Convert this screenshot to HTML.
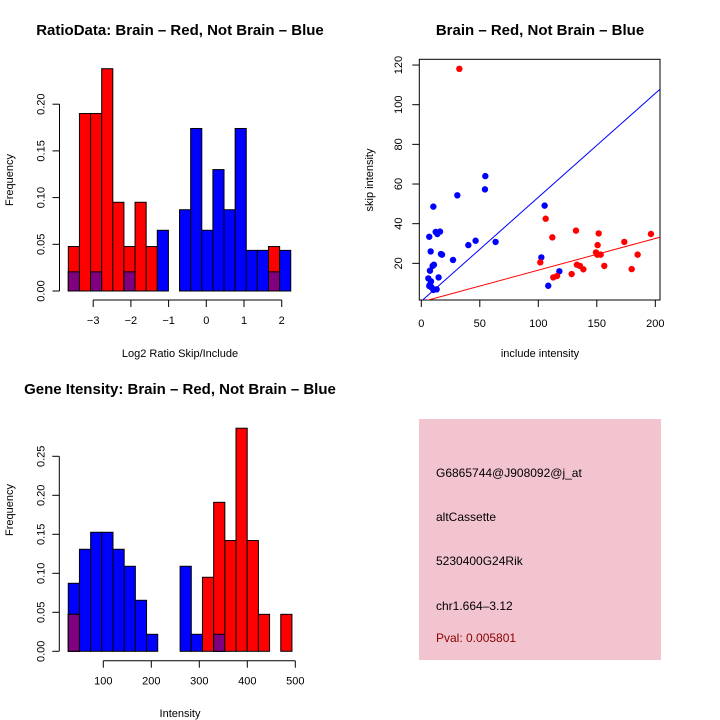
<!DOCTYPE html>
<html><head><meta charset="utf-8"><style>
html,body{margin:0;padding:0;background:#fff}
svg{display:block;font-family:"Liberation Sans",sans-serif}
</style></head><body>
<svg id="c" width="720" height="720" viewBox="0 0 720 720">
<rect width="720" height="720" fill="#fff"/>
<g id="p1"></g>
<g id="p2"></g>
<g id="p3"></g>
<g id="p4">
<rect x="419" y="419" width="242" height="241" fill="#f2c4cf"/>
<text x="436" y="477" font-size="12" fill="#000">G6865744@J908092@j_at</text>
<text x="436" y="521" font-size="12" fill="#000">altCassette</text>
<text x="436" y="565" font-size="12" fill="#000">5230400G24Rik</text>
<text x="436" y="610" font-size="12" fill="#000">chr1.664–3.12</text>
<text x="436" y="642" font-size="12" fill="#8b0000">Pval: 0.005801</text>
</g>
</svg>
<script>
// ---- Panel 1 data: log2 ratio histogram (20 bins) ----
const ratioBlue = [0.0217,0,0.0217,0,0,0.0217,0,0,0.065,0,0.087,0.174,0.065,0.13,0.087,0.174,0.0435,0.0435,0.0435,0.0435];
const ratioRed  = [0.0476,0.19,0.19,0.238,0.095,0.0476,0.095,0.0476,0,0,0,0,0,0,0,0,0,0,0.0476,0];
const ratioPurple = [0.0205,0,0.0205,0,0,0.0205,0,0,0,0,0,0,0,0,0,0,0,0,0.0205,0];
const ratioXTicks = [-3,-2,-1,0,1,2];
const ratioYTicks = [0,0.05,0.10,0.15,0.20];
const ratioYLabels = ["0.00","0.05","0.10","0.15","0.20"];
const ratioBinStart = -3.66, ratioBinWidth = 0.295;

// ---- Panel 2 data: scatter ----
const redX = [32.5,106.3,101.7,112,132.2,151.6,150.7,149.3,150.4,153.3,133,135.6,138.5,156.4,128.5,112.8,116,173.5,196.3,184.9,179.8];
const redY = [118.1,42.5,20.5,33.1,36.5,35.1,29.2,25.5,24.4,24.4,19.3,18.7,17,18.7,14.6,12.9,13.6,30.8,34.8,24.4,17.1];
const blueX = [6.8,8,10.3,12.3,13.7,16,16.8,17.7,9.7,10.8,7.4,6,7.4,8.8,10.3,13.1,14.8,6.8,8.3,27.1,30.8,40.2,46.4,54.7,54.4,63.5,102.6,105.4,108.5,118];
const blueY = [33.4,26,48.6,35.8,34.8,36,24.7,24.4,18.7,19.3,16.3,12.4,9.2,7.9,6.6,6.9,12.9,8.6,10.9,21.7,54.3,29.2,31.4,64,57.3,30.8,23,49.1,8.7,16];
const blueLine = [0.9,0.524];   // intercept, slope
const redLine = [0.55,0.16];
const scatXTicks = [0,50,100,150,200];
const scatYTicks = [20,40,60,80,100,120];

// ---- Panel 3 data: gene intensity histogram (20 bins) ----
const intBlue = [0.0872,0.1308,0.1526,0.1526,0.1308,0.109,0.0654,0.0218,0,0,0.109,0.0218,0,0.0218,0,0,0,0,0,0];
const intRed  = [0.0474,0,0,0,0,0,0,0,0,0,0,0,0.0949,0.191,0.142,0.286,0.142,0.0474,0,0.0474];
const intPurple = [0.0474,0,0,0,0,0,0,0,0,0,0,0,0,0.0218,0,0,0,0,0,0];
const intXTicks = [100,200,300,400,500];
const intYTicks = [0,0.05,0.10,0.15,0.20,0.25];
const intYLabels = ["0.00","0.05","0.10","0.15","0.20","0.25"];
const intBinStart = 27, intBinWidth = 23.3;

const NS = "http://www.w3.org/2000/svg";
function mk(parent, tag, attrs, text){
  const e = document.createElementNS(NS, tag);
  for (const k in attrs) e.setAttribute(k, attrs[k]);
  if (text !== undefined) e.textContent = text;
  parent.appendChild(e);
  return e;
}

function histogram(g, opt){
  const sx = v => opt.x0 + (v - opt.xv0) * opt.xs;
  const sy = v => opt.base - v * opt.ys;
  const n = opt.blue.length;
  for (let i = 0; i < n; i++){
    const l = sx(opt.binStart + i*opt.binW), r = sx(opt.binStart + (i+1)*opt.binW);
    if (opt.blue[i] > 0){
      const b = mk(g,'rect',{x:l,y:sy(opt.blue[i]),width:r-l,height:opt.blue[i]*opt.ys,fill:'#0000ff',stroke:'#000','stroke-width':1});
      
      
    }
    if (opt.red[i] > 0){
      const b = mk(g,'rect',{x:l,y:sy(opt.red[i]),width:r-l,height:opt.red[i]*opt.ys,fill:'#ff0000',stroke:'#000','stroke-width':1});
      
      
    }
    if (opt.purple[i] > 0){
      const b = mk(g,'rect',{x:l,y:sy(opt.purple[i]),width:r-l,height:opt.purple[i]*opt.ys,fill:'#800080',stroke:'#000','stroke-width':1});
      
      
    }
  }
  const yt = opt.yTicks;
  const ya = mk(g,'line',{x1:opt.yAxisX,x2:opt.yAxisX,y1:sy(yt[0]),y2:sy(yt[yt.length-1]),stroke:'#000'});
  
  
  yt.forEach((t,i)=>{
    mk(g,'line',{x1:opt.yAxisX-7,x2:opt.yAxisX,y1:sy(t),y2:sy(t),stroke:'#000'});
    const tx = mk(g,'text',{x:0,y:0,'font-size':11,'text-anchor':'middle',transform:`translate(${opt.yAxisX-15},${sy(t)}) rotate(-90)`},opt.yLabels[i]);
    
    
  });
  const xt = opt.xTicks;
  const xa = mk(g,'line',{x1:sx(xt[0]),x2:sx(xt[xt.length-1]),y1:opt.xAxisY,y2:opt.xAxisY,stroke:'#000'});
  
  
  xt.forEach(t=>{
    mk(g,'line',{x1:sx(t),x2:sx(t),y1:opt.xAxisY,y2:opt.xAxisY+7,stroke:'#000'});
    const tx = mk(g,'text',{x:sx(t),y:opt.xAxisY+24,'font-size':11,'text-anchor':'middle'},String(t).replace('-','−'));
    
    
  });
  const tt = mk(g,'text',{x:opt.titleX,y:opt.titleY,'font-size':15,'font-weight':'bold','text-anchor':'middle'},opt.title);
  
  
  const xl = mk(g,'text',{x:opt.xlabX,y:opt.xlabY,'font-size':11,'text-anchor':'middle'},opt.xlab);
  
  
  const yl = mk(g,'text',{x:0,y:0,'font-size':11,'text-anchor':'middle',transform:`translate(13,${opt.ylabY}) rotate(-90)`},'Frequency');
  
  
}

histogram(document.getElementById('p1'),{
  blue:ratioBlue, red:ratioRed, purple:ratioPurple, binStart:ratioBinStart, binW:ratioBinWidth,
  x0:206.3, xv0:0, xs:37.7, base:291, ys:934, yTicks:ratioYTicks, yLabels:ratioYLabels,
  yAxisX:59.5, xTicks:ratioXTicks, xAxisY:300,
  title:'RatioData: Brain – Red, Not Brain – Blue', titleX:180, titleY:35,
  xlab:'Log2 Ratio Skip/Include', xlabX:180, xlabY:357, ylabY:180
});
histogram(document.getElementById('p3'),{
  blue:intBlue, red:intRed, purple:intPurple, binStart:intBinStart, binW:intBinWidth,
  x0:55.3, xv0:0, xs:0.48, base:651.3, ys:780, yTicks:intYTicks, yLabels:intYLabels,
  yAxisX:59.3, xTicks:intXTicks, xAxisY:660.7,
  title:'Gene Itensity: Brain – Red, Not Brain – Blue', titleX:180, titleY:394,
  xlab:'Intensity', xlabX:180, xlabY:717, ylabY:510
});

(function(){
  const g = document.getElementById('p2');
  const sx = v => 421.3 + v*1.17;
  const sy = v => 303 - v*1.983;
  const box = mk(g,'rect',{x:419.3,y:59.3,width:240.7,height:240.7,fill:'none',stroke:'#000'});
  
  
  const clip = mk(g,'clipPath',{id:'sc'});
  mk(clip,'rect',{x:419.3,y:59.3,width:240.7,height:240.7});
  const lg = mk(g,'g',{'clip-path':'url(#sc)'});
  const xMin = -2, xMax = 210;
  const bl = mk(lg,'line',{x1:sx(xMin),y1:sy(blueLine[0]+blueLine[1]*xMin),x2:sx(xMax),y2:sy(blueLine[0]+blueLine[1]*xMax),stroke:'#0000ff'});
  
  
  const rl = mk(lg,'line',{x1:sx(xMin),y1:sy(redLine[0]+redLine[1]*xMin),x2:sx(xMax),y2:sy(redLine[0]+redLine[1]*xMax),stroke:'#ff0000'});
  
  
  blueX.forEach((x,i)=>{
    const c = mk(g,'circle',{cx:sx(x),cy:sy(blueY[i]),r:3.2,fill:'#0000ff'});
    
    
  });
  redX.forEach((x,i)=>{
    const c = mk(g,'circle',{cx:sx(x),cy:sy(redY[i]),r:3.2,fill:'#ff0000'});
    
    
  });
  scatXTicks.forEach(t=>{
    mk(g,'line',{x1:sx(t),x2:sx(t),y1:300,y2:307,stroke:'#000'});
    const tx = mk(g,'text',{x:sx(t),y:327,'font-size':11,'text-anchor':'middle'},String(t));
    
    
  });
  scatYTicks.forEach(t=>{
    mk(g,'line',{x1:412.3,x2:419.3,y1:sy(t),y2:sy(t),stroke:'#000'});
    const tx = mk(g,'text',{x:0,y:0,'font-size':11,'text-anchor':'middle',transform:`translate(402,${sy(t)}) rotate(-90)`},String(t));
    
    
  });
  const tt = mk(g,'text',{x:540,y:35,'font-size':15,'font-weight':'bold','text-anchor':'middle'},'Brain – Red, Not Brain – Blue');
  
  
  const xl = mk(g,'text',{x:540,y:357,'font-size':11,'text-anchor':'middle'},'include intensity');
  
  
  const yl = mk(g,'text',{x:0,y:0,'font-size':11,'text-anchor':'middle',transform:`translate(373,180) rotate(-90)`},'skip intensity');
  
  
})();
</script>
</body></html>
